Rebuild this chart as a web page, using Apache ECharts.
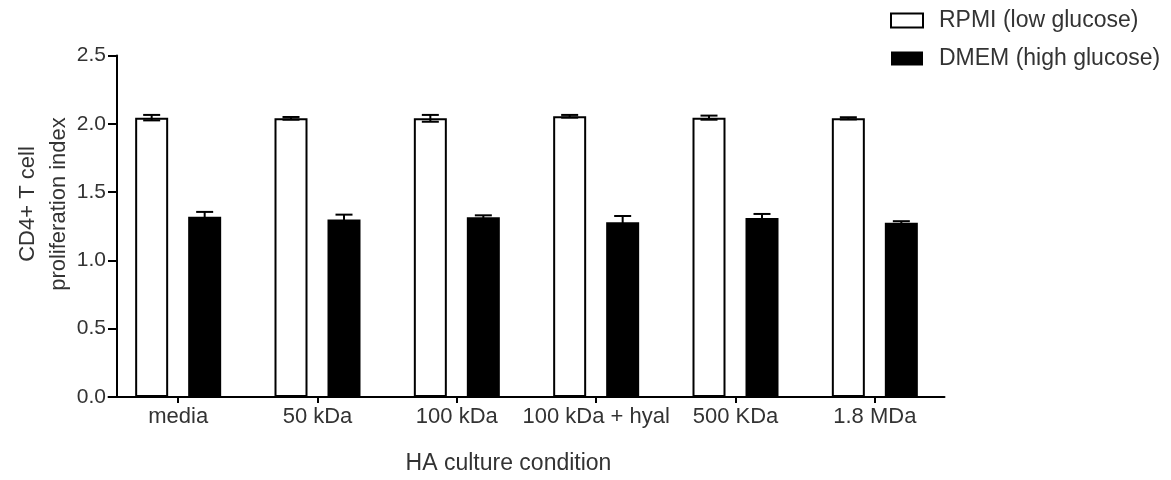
<!DOCTYPE html>
<html>
<head>
<meta charset="utf-8">
<script src="https://cdn.jsdelivr.net/npm/echarts@6/dist/echarts.min.js"></script>
<style>
html,body{margin:0;padding:0;background:#fff;}
#chart{width:1171px;height:480px;}
</style>
</head>
<body>
<div id="chart"></div>
<script>
// ---- data ----
var categories = ['media', '50 kDa', '100 kDa', '100 kDa + hyal', '500 KDa', '1.8 MDa'];
var seriesNames = ['RPMI (low glucose)', 'DMEM (high glucose)'];
var rpmiMean = [2.045, 2.04, 2.04, 2.055, 2.045, 2.04];
var rpmiErr  = [0.02, 0.01, 0.025, 0.01, 0.015, 0.008];
var dmemMean = [1.32, 1.30, 1.315, 1.28, 1.31, 1.275];
var dmemErr  = [0.035, 0.035, 0.015, 0.045, 0.03, 0.012];
var yTicks = [0, 0.5, 1.0, 1.5, 2.0, 2.5];
var xTitle = 'HA culture condition';
var yTitle = 'CD4+ T cell\nproliferation index';

// ---- style constants ----
var FONT = "'Liberation Sans', Arial, Helvetica, sans-serif";
var BAR_W = 33;
var BAR_GAP_PX = 20;
var CAP_W = 17;

var chart = echarts.init(document.getElementById('chart'), null, {renderer: 'canvas'});

function errData(mean, err) {
  return mean.map(function (m, i) { return [i, m, err[i]]; });
}
function errRender(offset) {
  return function (params, api) {
    var i = api.value(0), m = api.value(1), e = api.value(2);
    var top = api.coord([i, m + e]);
    var bot = api.coord([i, m - e]);
    var x = top[0] + offset;
    var st = {stroke: '#000', lineWidth: 2};
    return {
      type: 'group',
      children: [
        {type: 'line', shape: {x1: x, y1: top[1], x2: x, y2: bot[1]}, style: st},
        {type: 'line', shape: {x1: x - CAP_W / 2, y1: top[1], x2: x + CAP_W / 2, y2: top[1]}, style: st},
        {type: 'line', shape: {x1: x - CAP_W / 2, y1: bot[1], x2: x + CAP_W / 2, y2: bot[1]}, style: st}
      ]
    };
  };
}
var half = (BAR_W + BAR_GAP_PX) / 2;

chart.setOption({
  animation: false,
  backgroundColor: '#fff',
  textStyle: {fontFamily: FONT},
  grid: {left: 108.5, right: 226.5, top: 55.5, bottom: 79, containLabel: false},
  legend: {
    orient: 'vertical',
    left: 890,
    top: 9,
    padding: 0,
    itemWidth: 32,
    itemHeight: 14,
    itemGap: 15,
    icon: 'rect',
    data: seriesNames,
    textStyle: {fontSize: 23, color: '#333', fontFamily: FONT, padding: [0, 0, 0, 11]}
  },
  xAxis: {
    type: 'category',
    data: categories,
    name: xTitle,
    nameLocation: 'middle',
    nameGap: 55,
    nameTextStyle: {fontSize: 23, color: '#333', fontFamily: FONT, padding: [0, 36, 0, 0]},
    axisLine: {lineStyle: {color: '#000', width: 2}},
    axisTick: {show: true, alignWithLabel: true, interval: 0, length: 6, lineStyle: {color: '#000', width: 2}},
    axisLabel: {interval: 0, fontSize: 22, color: '#333', fontFamily: FONT, margin: 9}
  },
  yAxis: {
    type: 'value',
    min: 0, max: 2.5, interval: 0.5,
    offset: -8.5,
    splitLine: {show: false},
    axisLine: {show: true, lineStyle: {color: '#000', width: 2}},
    axisTick: {show: true, length: 9, lineStyle: {color: '#000', width: 2}},
    axisLabel: {
      fontSize: 21, color: '#333', fontFamily: FONT, margin: 11,
      formatter: function (v) { return yTicks.indexOf(v) >= 0 ? v.toFixed(1) : ''; }
    }
  },
  graphic: [{
    type: 'text',
    x: 43, y: 204,
    rotation: Math.PI / 2,
    style: {
      text: yTitle, fill: '#333', font: '22px ' + FONT,
      textAlign: 'center', textVerticalAlign: 'middle', lineHeight: 31
    }
  }],
  series: [
    {
      name: seriesNames[0], type: 'bar', data: rpmiMean,
      barWidth: BAR_W, barGap: (BAR_GAP_PX / BAR_W * 100) + '%',
      itemStyle: {color: '#fff', borderColor: '#000', borderWidth: 2}
    },
    {
      name: seriesNames[1], type: 'bar', data: dmemMean,
      barWidth: BAR_W, barGap: (BAR_GAP_PX / BAR_W * 100) + '%',
      itemStyle: {color: '#000', borderColor: '#000', borderWidth: 0}
    },
    {
      type: 'custom', data: errData(rpmiMean, rpmiErr), renderItem: errRender(-half), z: 5,
      encode: {x: 0, y: 1}, silent: true
    },
    {
      type: 'custom', data: errData(dmemMean, dmemErr), renderItem: errRender(half), z: 5,
      encode: {x: 0, y: 1}, silent: true
    }
  ]
});
</script>
</body>
</html>
